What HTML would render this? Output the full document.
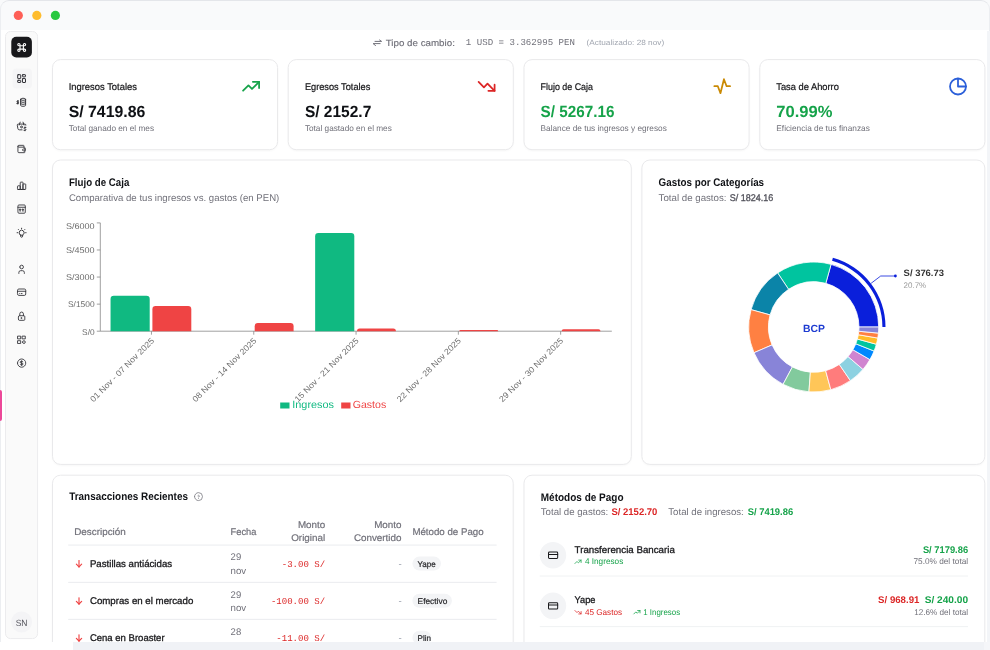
<!DOCTYPE html>
<html lang="es"><head><meta charset="utf-8"><title>Dashboard</title>
<style>
html,body{margin:0;padding:0}
body{width:990px;height:650px;overflow:hidden;background:#fff;position:relative;font-family:"Liberation Sans",sans-serif}
.card{position:absolute;box-sizing:border-box;background:#fff;border:1px solid #edeef1;box-shadow:0 1px 3px rgba(0,0,0,.06)}
svg{position:absolute;left:0;top:0}
.under{z-index:0}
</style></head><body>
<div id="layers" style="position:absolute;left:0;top:0;width:990px;height:650px;overflow:hidden">
<div style="position:absolute;left:0;top:0;width:990px;height:30px;background:#f9fafb"></div>
<div style="position:absolute;left:0;top:0;width:988px;height:700px;border:1px solid #eceef1;border-top-color:#e4e6ea;border-radius:9px 9px 0 0"></div>
<div style="position:absolute;left:0;top:390px;width:2px;height:30.5px;background:#ec4899;border-radius:0 2px 2px 0"></div>
<svg width="990" height="650" viewBox="0 0 990 650" text-rendering="geometricPrecision" style="will-change:transform">
<defs><filter id="bl" x="-5%" y="-5%" width="110%" height="110%"><feGaussianBlur stdDeviation="1.2"/></filter></defs>
<circle cx="18.3" cy="15.4" r="4.6" fill="#fe5f57"/>
<circle cx="36.8" cy="15.4" r="4.6" fill="#febc2e"/>
<circle cx="55.4" cy="15.4" r="4.6" fill="#28c840"/>
<rect x="5.5" y="31.5" width="32.1" height="607.1" rx="5" fill="#fafafa" stroke="#ececee" stroke-width="1"/>
<rect x="11.3" y="36.7" width="20.6" height="20.8" rx="5" fill="#18181b"/>
<rect x="12.5" y="68.4" width="19.5" height="20" rx="4" fill="#f5f5f6"/>
<circle cx="21.6" cy="622" r="10.5" fill="#f4f4f6"/>
<g transform="translate(14.95,40.65) scale(0.5625)" fill="none" stroke="#fff" stroke-width="2" stroke-linecap="round" stroke-linejoin="round"><path d="M7 9a2 2 0 1 1 2 -2v10a2 2 0 1 1 -2 -2h10a2 2 0 1 1 -2 2v-10a2 2 0 1 1 2 2h-10"/></g>
<g transform="translate(16.40,73.40) scale(0.4333)" fill="none" stroke="#2f2f35" stroke-width="2.3" stroke-linecap="round" stroke-linejoin="round"><rect x="3" y="3" width="7" height="9" rx="1"/><rect x="14" y="3" width="7" height="5" rx="1"/><rect x="14" y="12" width="7" height="9" rx="1"/><rect x="3" y="16" width="7" height="5" rx="1"/></g>
<g transform="translate(15.60,96.30) scale(0.5000)" fill="none" stroke="#2f2f35" stroke-width="1.9" stroke-linecap="round" stroke-linejoin="round"><path d="M10 6c0 1.1 2.2 2 5 2s5-.9 5-2s-2.2-2-5-2s-5 .9-5 2z"/><path d="M10 6v12c0 1.1 2.2 2 5 2s5-.9 5-2v-12"/><path d="M10 10c0 1.1 2.2 2 5 2s5-.9 5-2"/><path d="M10 14c0 1.1 2.2 2 5 2s5-.9 5-2"/><path d="M6 9.5h-2.2a1.2 1.2 0 0 0 0 2.5h1a1.2 1.2 0 0 1 0 2.5h-2.3"/><path d="M4.5 8.5v7"/></g>
<g transform="translate(15.85,120.25) scale(0.4792)" fill="none" stroke="#2f2f35" stroke-width="1.9" stroke-linecap="round" stroke-linejoin="round"><path d="M17 10l-2 -6"/><path d="M7 10l2 -6"/><path d="M13 20h-5.756a3 3 0 0 1 -2.965 -2.544l-1.255 -7.152a2 2 0 0 1 1.977 -2.304h13.999a2 2 0 0 1 1.977 2.304"/><path d="M10 14a2 2 0 1 0 4 0a2 2 0 0 0 -4 0"/><path d="M21 15h-2.500a1.500 1.500 0 0 0 0 3h1a1.500 1.500 0 0 1 0 3h-2.500"/><path d="M19 21v1m0 -8v1"/></g>
<g transform="translate(16.10,143.50) scale(0.4583)" fill="none" stroke="#2f2f35" stroke-width="1.9" stroke-linecap="round" stroke-linejoin="round"><path d="M17 8v-3a1 1 0 0 0 -1 -1h-10a2 2 0 0 0 0 4h12a1 1 0 0 1 1 1v3m0 4v3a1 1 0 0 1 -1 1h-12a2 2 0 0 1 -2 -2v-12"/><path d="M20 12v4h-4a2 2 0 0 1 0 -4h4"/></g>
<g transform="translate(16.10,180.30) scale(0.4583)" fill="none" stroke="#2f2f35" stroke-width="1.9" stroke-linecap="round" stroke-linejoin="round"><path d="M3 13a1 1 0 0 1 1 -1h4a1 1 0 0 1 1 1v6a1 1 0 0 1 -1 1h-4a1 1 0 0 1 -1 -1z"/><path d="M15 9a1 1 0 0 1 1 -1h4a1 1 0 0 1 1 1v10a1 1 0 0 1 -1 1h-4a1 1 0 0 1 -1 -1z"/><path d="M9 5a1 1 0 0 1 1 -1h4a1 1 0 0 1 1 1v14a1 1 0 0 1 -1 1h-4a1 1 0 0 1 -1 -1z"/><path d="M4 20h14"/></g>
<g transform="translate(16.10,203.60) scale(0.4583)" fill="none" stroke="#2f2f35" stroke-width="1.9" stroke-linecap="round" stroke-linejoin="round"><path d="M4 5a2 2 0 0 1 2 -2h12a2 2 0 0 1 2 2v14a2 2 0 0 1 -2 2h-12a2 2 0 0 1 -2 -2z"/><path d="M4 8h16"/><path d="M8 12h2v2h-2z"/><path d="M14 12h2v2h-2z"/><path d="M8 16h2"/><path d="M14 16h2"/></g>
<g transform="translate(15.60,226.70) scale(0.5000)" fill="none" stroke="#2f2f35" stroke-width="1.9" stroke-linecap="round" stroke-linejoin="round"><path d="M3 12h1m8 -9v1m8 8h1m-15.400 -6.400l.7 .7m12.100 -.7l-.7 .7"/><path d="M9 16a5 5 0 1 1 6 0a3.500 3.500 0 0 0 -1 3a2 2 0 0 1 -4 0a3.500 3.500 0 0 0 -1 -3"/><path d="M9.700 17h4.600"/></g>
<g transform="translate(16.10,263.80) scale(0.4583)" fill="none" stroke="#2f2f35" stroke-width="1.9" stroke-linecap="round" stroke-linejoin="round"><path d="M8 7a4 4 0 1 0 8 0a4 4 0 0 0 -8 0"/><path d="M6 21v-2a4 4 0 0 1 4 -4h4a4 4 0 0 1 4 4v2"/></g>
<g transform="translate(16.10,286.70) scale(0.4583)" fill="none" stroke="#2f2f35" stroke-width="1.9" stroke-linecap="round" stroke-linejoin="round"><path d="M3 8a3 3 0 0 1 3 -3h12a3 3 0 0 1 3 3v8a3 3 0 0 1 -3 3h-12a3 3 0 0 1 -3 -3z"/><path d="M3 10h18"/><path d="M7 15h.01"/><path d="M11 15h2"/></g>
<g transform="translate(16.10,310.70) scale(0.4583)" fill="none" stroke="#2f2f35" stroke-width="1.9" stroke-linecap="round" stroke-linejoin="round"><path d="M5 13a2 2 0 0 1 2 -2h10a2 2 0 0 1 2 2v6a2 2 0 0 1 -2 2h-10a2 2 0 0 1 -2 -2z"/><path d="M11 16a1 1 0 1 0 2 0a1 1 0 0 0 -2 0"/><path d="M8 11v-4a4 4 0 1 1 8 0v4"/></g>
<g transform="translate(16.10,334.30) scale(0.4583)" fill="none" stroke="#2f2f35" stroke-width="1.9" stroke-linecap="round" stroke-linejoin="round"><path d="M4 4h6v6h-6z"/><path d="M14 4h6v6h-6z"/><path d="M4 14h6v6h-6z"/><path d="M14 17a3 3 0 1 0 6 0a3 3 0 1 0 -6 0"/></g>
<g transform="translate(16.10,357.60) scale(0.4583)" fill="none" stroke="#2f2f35" stroke-width="1.9" stroke-linecap="round" stroke-linejoin="round"><path d="M3 12a9 9 0 1 0 18 0a9 9 0 1 0 -18 0"/><path d="M14.800 9a2 2 0 0 0 -1.800 -1h-2a2 2 0 1 0 0 4h2a2 2 0 1 1 0 4h-2a2 2 0 0 1 -1.800 -1"/><path d="M12 7v10"/></g>
<text x="15.70" y="625.50" font-family="'Liberation Sans', sans-serif" font-size="9" font-weight="400" fill="#52525b" textLength="11.80" lengthAdjust="spacingAndGlyphs">SN</text>
<path d="M375 41.4H381.6L379.6 40.0M380.1 43.6H373.1L375.5 45.5" fill="none" stroke="#71717a" stroke-width="1" stroke-linecap="round" stroke-linejoin="round"/>
<text x="385.70" y="45.60" font-family="'Liberation Sans', sans-serif" font-size="9.1" font-weight="400" fill="#71717a" textLength="69.20" lengthAdjust="spacingAndGlyphs" stroke="#71717a" stroke-width="0.15">Tipo de cambio:</text>
<text x="465.80" y="45.40" font-family="'Liberation Mono', monospace" font-size="9.1" font-weight="400" fill="#71717a" textLength="109.20" lengthAdjust="spacingAndGlyphs">1 USD = 3.362995 PEN</text>
<text x="586.60" y="45.20" font-family="'Liberation Sans', sans-serif" font-size="7.6" font-weight="400" fill="#a1a6b0" textLength="77.60" lengthAdjust="spacingAndGlyphs">(Actualizado: 28 nov)</text>
<rect x="52.5" y="60.800000000000004" width="225.1" height="90.1" rx="8" fill="#000" opacity="0.035" filter="url(#bl)"/>
<rect x="52.5" y="59.6" width="225.1" height="90.1" rx="8" fill="#fff" stroke="#e9e9eb" stroke-width="1"/>
<text x="68.70" y="89.60" font-family="'Liberation Sans', sans-serif" font-size="9.7" font-weight="400" fill="#18181b" textLength="68.20" lengthAdjust="spacingAndGlyphs" stroke="#18181b" stroke-width="0.22">Ingresos Totales</text>
<text x="68.70" y="117.30" font-family="'Liberation Sans', sans-serif" font-size="16.2" font-weight="700" fill="#0f1115" textLength="76.60" lengthAdjust="spacingAndGlyphs">S/ 7419.86</text>
<text x="68.70" y="130.60" font-family="'Liberation Sans', sans-serif" font-size="8.3" font-weight="400" fill="#71717a" textLength="85.40" lengthAdjust="spacingAndGlyphs">Total ganado en el mes</text>
<rect x="288.2" y="60.800000000000004" width="225.1" height="90.1" rx="8" fill="#000" opacity="0.035" filter="url(#bl)"/>
<rect x="288.2" y="59.6" width="225.1" height="90.1" rx="8" fill="#fff" stroke="#e9e9eb" stroke-width="1"/>
<text x="304.90" y="89.60" font-family="'Liberation Sans', sans-serif" font-size="9.7" font-weight="400" fill="#18181b" textLength="65.40" lengthAdjust="spacingAndGlyphs" stroke="#18181b" stroke-width="0.22">Egresos Totales</text>
<text x="304.90" y="117.30" font-family="'Liberation Sans', sans-serif" font-size="16.2" font-weight="700" fill="#0f1115" textLength="66.40" lengthAdjust="spacingAndGlyphs">S/ 2152.7</text>
<text x="304.90" y="130.60" font-family="'Liberation Sans', sans-serif" font-size="8.3" font-weight="400" fill="#71717a" textLength="86.90" lengthAdjust="spacingAndGlyphs">Total gastado en el mes</text>
<rect x="524.0" y="60.800000000000004" width="225.1" height="90.1" rx="8" fill="#000" opacity="0.035" filter="url(#bl)"/>
<rect x="524.0" y="59.6" width="225.1" height="90.1" rx="8" fill="#fff" stroke="#e9e9eb" stroke-width="1"/>
<text x="540.60" y="89.60" font-family="'Liberation Sans', sans-serif" font-size="9.7" font-weight="400" fill="#18181b" textLength="52.40" lengthAdjust="spacingAndGlyphs" stroke="#18181b" stroke-width="0.22">Flujo de Caja</text>
<text x="540.60" y="117.30" font-family="'Liberation Sans', sans-serif" font-size="16.2" font-weight="700" fill="#16a34a" textLength="73.80" lengthAdjust="spacingAndGlyphs">S/ 5267.16</text>
<text x="540.60" y="130.60" font-family="'Liberation Sans', sans-serif" font-size="8.3" font-weight="400" fill="#71717a" textLength="126.20" lengthAdjust="spacingAndGlyphs">Balance de tus ingresos y egresos</text>
<rect x="759.8" y="60.800000000000004" width="225.1" height="90.1" rx="8" fill="#000" opacity="0.035" filter="url(#bl)"/>
<rect x="759.8" y="59.6" width="225.1" height="90.1" rx="8" fill="#fff" stroke="#e9e9eb" stroke-width="1"/>
<text x="776.30" y="89.60" font-family="'Liberation Sans', sans-serif" font-size="9.7" font-weight="400" fill="#18181b" textLength="62.60" lengthAdjust="spacingAndGlyphs" stroke="#18181b" stroke-width="0.22">Tasa de Ahorro</text>
<text x="776.30" y="117.30" font-family="'Liberation Sans', sans-serif" font-size="16.2" font-weight="700" fill="#16a34a" textLength="56.10" lengthAdjust="spacingAndGlyphs">70.99%</text>
<text x="776.30" y="130.60" font-family="'Liberation Sans', sans-serif" font-size="8.3" font-weight="400" fill="#71717a" textLength="93.50" lengthAdjust="spacingAndGlyphs">Eficiencia de tus finanzas</text>
<g transform="translate(240.45,75.65) scale(0.8875)" fill="none" stroke="#16a34a" stroke-width="2" stroke-linecap="round" stroke-linejoin="round"><path d="M3 17l6 -6l4 4l8 -8"/><path d="M14 7h7v7"/></g>
<g transform="translate(475.95,75.75) scale(0.8875)" fill="none" stroke="#dc2626" stroke-width="2" stroke-linecap="round" stroke-linejoin="round"><path d="M3 7l6 6l4 -4l8 8"/><path d="M21 10v7h-7"/></g>
<g transform="translate(711.70,75.70) scale(0.8750)" fill="none" stroke="#ca8a04" stroke-width="2" stroke-linecap="round" stroke-linejoin="round"><path d="M3 12h4l3 8l4 -16l3 8h4"/></g>
<g transform="translate(947.35,75.85) scale(0.8875)" fill="none" stroke="#2b5fd9" stroke-width="2" stroke-linecap="round" stroke-linejoin="round"><path d="M12 3v9h9"/><path d="M3 12a9 9 0 1 0 18 0a9 9 0 1 0 -18 0"/></g>
<rect x="52.5" y="161.2" width="578.8" height="304.4" rx="8" fill="#000" opacity="0.035" filter="url(#bl)"/>
<rect x="52.5" y="160.0" width="578.8" height="304.4" rx="8" fill="#fff" stroke="#e9e9eb" stroke-width="1"/>
<text x="68.90" y="186.00" font-family="'Liberation Sans', sans-serif" font-size="11" font-weight="700" fill="#0f1115" textLength="60.40" lengthAdjust="spacingAndGlyphs">Flujo de Caja</text>
<text x="68.90" y="201.20" font-family="'Liberation Sans', sans-serif" font-size="9.7" font-weight="400" fill="#71717a" textLength="210.40" lengthAdjust="spacingAndGlyphs">Comparativa de tus ingresos vs. gastos (en PEN)</text>
<path d="M100.3 222.9V331.2H611.8" fill="none" stroke="#808080" stroke-width="0.75"/>
<path d="M96.8 222.9H100.3" stroke="#808080" stroke-width="0.75"/>
<text x="94.60" y="228.50" font-family="'Liberation Sans', sans-serif" font-size="8.3" font-weight="400" fill="#6b6b6b" text-anchor="end" textLength="28.70" lengthAdjust="spacingAndGlyphs">S/6000</text>
<path d="M96.8 249.975H100.3" stroke="#808080" stroke-width="0.75"/>
<text x="94.60" y="252.82" font-family="'Liberation Sans', sans-serif" font-size="8.3" font-weight="400" fill="#6b6b6b" text-anchor="end" textLength="28.70" lengthAdjust="spacingAndGlyphs">S/4500</text>
<path d="M96.8 277.05H100.3" stroke="#808080" stroke-width="0.75"/>
<text x="94.60" y="279.90" font-family="'Liberation Sans', sans-serif" font-size="8.3" font-weight="400" fill="#6b6b6b" text-anchor="end" textLength="28.70" lengthAdjust="spacingAndGlyphs">S/3000</text>
<path d="M96.8 304.125H100.3" stroke="#808080" stroke-width="0.75"/>
<text x="94.60" y="306.98" font-family="'Liberation Sans', sans-serif" font-size="8.3" font-weight="400" fill="#6b6b6b" text-anchor="end" textLength="26.60" lengthAdjust="spacingAndGlyphs">S/1500</text>
<path d="M96.8 331.2H100.3" stroke="#808080" stroke-width="0.75"/>
<text x="94.60" y="334.90" font-family="'Liberation Sans', sans-serif" font-size="8.3" font-weight="400" fill="#6b6b6b" text-anchor="end" textLength="12.50" lengthAdjust="spacingAndGlyphs">S/0</text>
<path d="M110.55 331.20V299.00Q110.55 295.80 113.75 295.80H146.50Q149.70 295.80 149.70 299.00V331.20Z" fill="#10b981"/>
<path d="M152.40 331.20V309.20Q152.40 306.00 155.60 306.00H188.10Q191.30 306.00 191.30 309.20V331.20Z" fill="#ef4444"/>
<path d="M151.45 331.2v3.5" stroke="#808080" stroke-width="0.75"/>
<text transform="translate(154.65,341.20) rotate(-45)" text-anchor="end" font-family="'Liberation Sans', sans-serif" font-size="8.3" fill="#6b6b6b" textLength="86.6" lengthAdjust="spacingAndGlyphs">01 Nov - 07 Nov 2025</text>
<path d="M254.70 331.20V326.20Q254.70 323.00 257.90 323.00H290.40Q293.60 323.00 293.60 326.20V331.20Z" fill="#ef4444"/>
<path d="M253.75 331.2v3.5" stroke="#808080" stroke-width="0.75"/>
<text transform="translate(256.95,341.20) rotate(-45)" text-anchor="end" font-family="'Liberation Sans', sans-serif" font-size="8.3" fill="#6b6b6b" textLength="86.6" lengthAdjust="spacingAndGlyphs">08 Nov - 14 Nov 2025</text>
<path d="M315.15 331.20V236.30Q315.15 233.10 318.35 233.10H351.10Q354.30 233.10 354.30 236.30V331.20Z" fill="#10b981"/>
<path d="M357.00 331.20V331.20Q357.00 328.60 359.60 328.60H393.30Q395.90 328.60 395.90 331.20V331.20Z" fill="#ef4444"/>
<path d="M356.05 331.2v3.5" stroke="#808080" stroke-width="0.75"/>
<text transform="translate(359.25,341.20) rotate(-45)" text-anchor="end" font-family="'Liberation Sans', sans-serif" font-size="8.3" fill="#6b6b6b" textLength="86.6" lengthAdjust="spacingAndGlyphs">15 Nov - 21 Nov 2025</text>
<path d="M459.30 331.20V331.20Q459.30 330.00 460.50 330.00H497.00Q498.20 330.00 498.20 331.20V331.20Z" fill="#ef4444"/>
<path d="M458.35 331.2v3.5" stroke="#808080" stroke-width="0.75"/>
<text transform="translate(461.55,341.20) rotate(-45)" text-anchor="end" font-family="'Liberation Sans', sans-serif" font-size="8.3" fill="#6b6b6b" textLength="86.6" lengthAdjust="spacingAndGlyphs">22 Nov - 28 Nov 2025</text>
<path d="M561.60 331.20V331.20Q561.60 329.20 563.60 329.20H598.50Q600.50 329.20 600.50 331.20V331.20Z" fill="#ef4444"/>
<path d="M560.65 331.2v3.5" stroke="#808080" stroke-width="0.75"/>
<text transform="translate(563.85,341.20) rotate(-45)" text-anchor="end" font-family="'Liberation Sans', sans-serif" font-size="8.3" fill="#6b6b6b" textLength="86.6" lengthAdjust="spacingAndGlyphs">29 Nov - 30 Nov 2025</text>
<rect x="280.2" y="402.5" width="9.3" height="6.0" fill="#10b981"/>
<text x="292.30" y="408.00" font-family="'Liberation Sans', sans-serif" font-size="10.4" font-weight="400" fill="#10b981" textLength="41.70" lengthAdjust="spacingAndGlyphs">Ingresos</text>
<rect x="341.2" y="402.5" width="9.3" height="6.0" fill="#ef4444"/>
<text x="352.70" y="408.00" font-family="'Liberation Sans', sans-serif" font-size="10.4" font-weight="400" fill="#ef4444" textLength="33.50" lengthAdjust="spacingAndGlyphs">Gastos</text>
<rect x="641.9" y="161.2" width="342.9" height="304.4" rx="8" fill="#000" opacity="0.035" filter="url(#bl)"/>
<rect x="641.9" y="160.0" width="342.9" height="304.4" rx="8" fill="#fff" stroke="#e9e9eb" stroke-width="1"/>
<text x="658.60" y="185.80" font-family="'Liberation Sans', sans-serif" font-size="11" font-weight="700" fill="#0f1115" textLength="105.50" lengthAdjust="spacingAndGlyphs">Gastos por Categorías</text>
<text x="658.60" y="200.60" font-family="'Liberation Sans', sans-serif" font-size="9.7" font-weight="400" fill="#71717a" textLength="67.90" lengthAdjust="spacingAndGlyphs">Total de gastos:</text>
<text x="729.70" y="200.60" font-family="'Liberation Sans', sans-serif" font-size="9.7" font-weight="400" fill="#52525b" textLength="43.60" lengthAdjust="spacingAndGlyphs" stroke="#52525b" stroke-width="0.3">S/ 1824.16</text>
<path d="M878.70 327.00A65.0 65.0 0 0 0 831.07 264.36L825.81 283.35A45.3 45.3 0 0 1 859.00 327.00Z" fill="#0a1fdb" stroke="#fff" stroke-width="0.8"/>
<path d="M831.07 264.36A65.0 65.0 0 0 0 777.64 272.92L788.57 289.31A45.3 45.3 0 0 1 825.81 283.35Z" fill="#00c49f" stroke="#fff" stroke-width="0.8"/>
<path d="M777.64 272.92A65.0 65.0 0 0 0 751.06 309.63L770.05 314.89A45.3 45.3 0 0 1 788.57 289.31Z" fill="#0b84a8" stroke="#fff" stroke-width="0.8"/>
<path d="M751.06 309.63A65.0 65.0 0 0 0 754.00 352.71L772.09 344.92A45.3 45.3 0 0 1 770.05 314.89Z" fill="#ff8042" stroke="#fff" stroke-width="0.8"/>
<path d="M754.00 352.71A65.0 65.0 0 0 0 783.08 384.34L792.36 366.96A45.3 45.3 0 0 1 772.09 344.92Z" fill="#8884d8" stroke="#fff" stroke-width="0.8"/>
<path d="M783.08 384.34A65.0 65.0 0 0 0 808.94 391.83L810.38 372.18A45.3 45.3 0 0 1 792.36 366.96Z" fill="#82ca9d" stroke="#fff" stroke-width="0.8"/>
<path d="M808.94 391.83A65.0 65.0 0 0 0 830.85 389.70L825.65 370.69A45.3 45.3 0 0 1 810.38 372.18Z" fill="#ffc658" stroke="#fff" stroke-width="0.8"/>
<path d="M830.85 389.70A65.0 65.0 0 0 0 850.42 380.63L839.29 364.38A45.3 45.3 0 0 1 825.65 370.69Z" fill="#ff7c7c" stroke="#fff" stroke-width="0.8"/>
<path d="M850.42 380.63A65.0 65.0 0 0 0 862.98 369.39L848.04 356.54A45.3 45.3 0 0 1 839.29 364.38Z" fill="#8dd1e1" stroke="#fff" stroke-width="0.8"/>
<path d="M862.98 369.39A65.0 65.0 0 0 0 869.93 359.60L852.89 349.72A45.3 45.3 0 0 1 848.04 356.54Z" fill="#d084d0" stroke="#fff" stroke-width="0.8"/>
<path d="M869.93 359.60A65.0 65.0 0 0 0 874.09 351.03L855.79 343.75A45.3 45.3 0 0 1 852.89 349.72Z" fill="#0088fe" stroke="#fff" stroke-width="0.8"/>
<path d="M874.09 351.03A65.0 65.0 0 0 0 876.37 344.26L857.37 339.03A45.3 45.3 0 0 1 855.79 343.75Z" fill="#00c49f" stroke="#fff" stroke-width="0.8"/>
<path d="M876.37 344.26A65.0 65.0 0 0 0 877.75 338.06L858.34 334.71A45.3 45.3 0 0 1 857.37 339.03Z" fill="#ffbb28" stroke="#fff" stroke-width="0.8"/>
<path d="M877.75 338.06A65.0 65.0 0 0 0 878.41 333.12L858.80 331.26A45.3 45.3 0 0 1 858.34 334.71Z" fill="#ff8042" stroke="#fff" stroke-width="0.8"/>
<path d="M878.41 333.12A65.0 65.0 0 0 0 878.70 327.00L859.00 327.00A45.3 45.3 0 0 1 858.80 331.26Z" fill="#8884d8" stroke="#fff" stroke-width="0.8"/>
<path d="M885.50 327.00A71.8 71.8 0 0 0 832.89 257.81L832.06 260.80A68.7 68.7 0 0 1 882.40 327.00Z" fill="#0a1fdb"/>
<path d="M871.1 283.3L880.7 276H895.4" fill="none" stroke="#0a1fdb" stroke-width="0.8"/>
<circle cx="895.4" cy="276" r="1.4" fill="#0a1fdb"/>
<text x="813.90" y="331.50" font-family="'Liberation Sans', sans-serif" font-size="10.4" font-weight="700" fill="#1d3bd1" text-anchor="middle">BCP</text>
<text x="903.60" y="275.70" font-family="'Liberation Sans', sans-serif" font-size="9.2" font-weight="700" fill="#333" textLength="40.40" lengthAdjust="spacingAndGlyphs">S/ 376.73</text>
<text x="903.60" y="287.80" font-family="'Liberation Sans', sans-serif" font-size="8.1" font-weight="400" fill="#9a9a9a" textLength="22.60" lengthAdjust="spacingAndGlyphs">20.7%</text>
<rect x="52.5" y="476.4" width="460.7" height="200" rx="8" fill="#000" opacity="0.035" filter="url(#bl)"/>
<rect x="52.5" y="475.2" width="460.7" height="200" rx="8" fill="#fff" stroke="#e9e9eb" stroke-width="1"/>
<text x="69.20" y="500.30" font-family="'Liberation Sans', sans-serif" font-size="11" font-weight="700" fill="#0f1115" textLength="118.80" lengthAdjust="spacingAndGlyphs">Transacciones Recientes</text>
<g transform="translate(193.20,491.30) scale(0.4417)" fill="none" stroke="#71717a" stroke-width="1.7" stroke-linecap="round" stroke-linejoin="round"><path d="M3 12a9 9 0 1 0 18 0a9 9 0 1 0 -18 0"/><path d="M12 16v.01"/><path d="M12 13a2 2 0 0 0 .914 -3.782a1.980 1.980 0 0 0 -2.414 .483"/></g>
<text x="74.20" y="534.60" font-family="'Liberation Sans', sans-serif" font-size="9.7" font-weight="400" fill="#71717a" textLength="51.60" lengthAdjust="spacingAndGlyphs" stroke="#71717a" stroke-width="0.2">Descripción</text>
<text x="230.60" y="534.90" font-family="'Liberation Sans', sans-serif" font-size="9.7" font-weight="400" fill="#71717a" textLength="25.80" lengthAdjust="spacingAndGlyphs" stroke="#71717a" stroke-width="0.2">Fecha</text>
<text x="325.20" y="528.00" font-family="'Liberation Sans', sans-serif" font-size="9.7" font-weight="400" fill="#71717a" text-anchor="end" textLength="27.30" lengthAdjust="spacingAndGlyphs" stroke="#71717a" stroke-width="0.2">Monto</text>
<text x="325.20" y="541.40" font-family="'Liberation Sans', sans-serif" font-size="9.7" font-weight="400" fill="#71717a" text-anchor="end" textLength="34.00" lengthAdjust="spacingAndGlyphs" stroke="#71717a" stroke-width="0.2">Original</text>
<text x="401.50" y="528.00" font-family="'Liberation Sans', sans-serif" font-size="9.7" font-weight="400" fill="#71717a" text-anchor="end" textLength="27.30" lengthAdjust="spacingAndGlyphs" stroke="#71717a" stroke-width="0.2">Monto</text>
<text x="401.50" y="541.40" font-family="'Liberation Sans', sans-serif" font-size="9.7" font-weight="400" fill="#71717a" text-anchor="end" textLength="47.60" lengthAdjust="spacingAndGlyphs" stroke="#71717a" stroke-width="0.2">Convertido</text>
<text x="412.40" y="534.90" font-family="'Liberation Sans', sans-serif" font-size="9.7" font-weight="400" fill="#71717a" textLength="71.20" lengthAdjust="spacingAndGlyphs" stroke="#71717a" stroke-width="0.2">Método de Pago</text>
<path d="M68.2 545.1H496.6" stroke="#e9eaed" stroke-width="0.9"/>
<path d="M68.2 582.4H496.6" stroke="#e9eaed" stroke-width="0.9"/>
<path d="M68.2 619.4H496.6" stroke="#e9eaed" stroke-width="0.9"/>
<g transform="translate(73.70,558.40) scale(0.4417)" fill="none" stroke="#ef4444" stroke-width="2.6" stroke-linecap="round" stroke-linejoin="round"><path d="M12 5v14"/><path d="M18 13l-6 6"/><path d="M6 13l6 6"/></g>
<text x="89.90" y="566.90" font-family="'Liberation Sans', sans-serif" font-size="9.7" font-weight="400" fill="#18181b" textLength="82.20" lengthAdjust="spacingAndGlyphs" stroke="#18181b" stroke-width="0.3">Pastillas antiácidas</text>
<text x="230.60" y="560.30" font-family="'Liberation Sans', sans-serif" font-size="9.7" font-weight="400" fill="#71717a" textLength="10.60" lengthAdjust="spacingAndGlyphs">29</text>
<text x="230.60" y="573.80" font-family="'Liberation Sans', sans-serif" font-size="9.7" font-weight="400" fill="#71717a" textLength="15.60" lengthAdjust="spacingAndGlyphs">nov</text>
<text x="325.20" y="566.80" font-family="'Liberation Mono', monospace" font-size="9.05" font-weight="400" fill="#dc2626" text-anchor="end">-3.00 S/</text>
<text x="398.40" y="566.80" font-family="'Liberation Sans', sans-serif" font-size="9.7" font-weight="400" fill="#9ca3af">-</text>
<rect x="412.4" y="556.6" width="28.6" height="14" rx="7" fill="#f3f4f6"/>
<text x="417.60" y="566.50" font-family="'Liberation Sans', sans-serif" font-size="8.3" font-weight="400" fill="#27272a" textLength="18.20" lengthAdjust="spacingAndGlyphs" stroke="#27272a" stroke-width="0.2">Yape</text>
<g transform="translate(73.70,595.60) scale(0.4417)" fill="none" stroke="#ef4444" stroke-width="2.6" stroke-linecap="round" stroke-linejoin="round"><path d="M12 5v14"/><path d="M18 13l-6 6"/><path d="M6 13l6 6"/></g>
<text x="89.90" y="604.10" font-family="'Liberation Sans', sans-serif" font-size="9.7" font-weight="400" fill="#18181b" textLength="103.40" lengthAdjust="spacingAndGlyphs" stroke="#18181b" stroke-width="0.3">Compras en el mercado</text>
<text x="230.60" y="597.50" font-family="'Liberation Sans', sans-serif" font-size="9.7" font-weight="400" fill="#71717a" textLength="10.60" lengthAdjust="spacingAndGlyphs">29</text>
<text x="230.60" y="611.00" font-family="'Liberation Sans', sans-serif" font-size="9.7" font-weight="400" fill="#71717a" textLength="15.60" lengthAdjust="spacingAndGlyphs">nov</text>
<text x="325.20" y="604.00" font-family="'Liberation Mono', monospace" font-size="9.05" font-weight="400" fill="#dc2626" text-anchor="end">-100.00 S/</text>
<text x="398.40" y="604.00" font-family="'Liberation Sans', sans-serif" font-size="9.7" font-weight="400" fill="#9ca3af">-</text>
<rect x="412.4" y="593.8" width="39.5" height="14" rx="7" fill="#f3f4f6"/>
<text x="417.60" y="603.70" font-family="'Liberation Sans', sans-serif" font-size="8.3" font-weight="400" fill="#27272a" textLength="29.70" lengthAdjust="spacingAndGlyphs" stroke="#27272a" stroke-width="0.2">Efectivo</text>
<g transform="translate(73.70,632.60) scale(0.4417)" fill="none" stroke="#ef4444" stroke-width="2.6" stroke-linecap="round" stroke-linejoin="round"><path d="M12 5v14"/><path d="M18 13l-6 6"/><path d="M6 13l6 6"/></g>
<text x="89.90" y="641.10" font-family="'Liberation Sans', sans-serif" font-size="9.7" font-weight="400" fill="#18181b" textLength="74.70" lengthAdjust="spacingAndGlyphs" stroke="#18181b" stroke-width="0.3">Cena en Broaster</text>
<text x="230.60" y="634.50" font-family="'Liberation Sans', sans-serif" font-size="9.7" font-weight="400" fill="#71717a" textLength="10.60" lengthAdjust="spacingAndGlyphs">28</text>
<text x="230.60" y="648.00" font-family="'Liberation Sans', sans-serif" font-size="9.7" font-weight="400" fill="#71717a" textLength="15.60" lengthAdjust="spacingAndGlyphs">nov</text>
<text x="325.20" y="641.00" font-family="'Liberation Mono', monospace" font-size="9.05" font-weight="400" fill="#dc2626" text-anchor="end">-11.00 S/</text>
<text x="398.40" y="641.00" font-family="'Liberation Sans', sans-serif" font-size="9.7" font-weight="400" fill="#9ca3af">-</text>
<rect x="412.4" y="630.8" width="18.9" height="14" rx="7" fill="#f3f4f6"/>
<text x="417.60" y="640.70" font-family="'Liberation Sans', sans-serif" font-size="8.3" font-weight="400" fill="#27272a" textLength="13.50" lengthAdjust="spacingAndGlyphs" stroke="#27272a" stroke-width="0.2">Plin</text>
<rect x="524.0" y="476.4" width="460.8" height="200" rx="8" fill="#000" opacity="0.035" filter="url(#bl)"/>
<rect x="524.0" y="475.2" width="460.8" height="200" rx="8" fill="#fff" stroke="#e9e9eb" stroke-width="1"/>
<text x="540.80" y="500.70" font-family="'Liberation Sans', sans-serif" font-size="11" font-weight="700" fill="#0f1115" textLength="82.70" lengthAdjust="spacingAndGlyphs">Métodos de Pago</text>
<text x="540.80" y="515.00" font-family="'Liberation Sans', sans-serif" font-size="9.7" font-weight="400" fill="#71717a" textLength="67.50" lengthAdjust="spacingAndGlyphs">Total de gastos:</text>
<text x="611.40" y="515.00" font-family="'Liberation Sans', sans-serif" font-size="9.7" font-weight="700" fill="#dc2626" textLength="46.00" lengthAdjust="spacingAndGlyphs">S/ 2152.70</text>
<text x="668.30" y="515.00" font-family="'Liberation Sans', sans-serif" font-size="9.7" font-weight="400" fill="#71717a" textLength="75.50" lengthAdjust="spacingAndGlyphs">Total de ingresos:</text>
<text x="747.70" y="515.00" font-family="'Liberation Sans', sans-serif" font-size="9.7" font-weight="700" fill="#16a34a" textLength="45.50" lengthAdjust="spacingAndGlyphs">S/ 7419.86</text>
<circle cx="553" cy="555.2" r="13.2" fill="#f3f4f6"/>
<g transform="translate(547.60,549.80) scale(0.4583)" fill="none" stroke="#18181b" stroke-width="2.2" stroke-linecap="round" stroke-linejoin="round"><rect x="2" y="5" width="20" height="14" rx="2"/><path d="M2 10h20"/></g>
<path d="M539.8 576.0H968" stroke="#eef0f2" stroke-width="0.9"/>
<circle cx="553" cy="605.8" r="13.2" fill="#f3f4f6"/>
<g transform="translate(547.60,600.40) scale(0.4583)" fill="none" stroke="#18181b" stroke-width="2.2" stroke-linecap="round" stroke-linejoin="round"><rect x="2" y="5" width="20" height="14" rx="2"/><path d="M2 10h20"/></g>
<path d="M539.8 626.6H968" stroke="#eef0f2" stroke-width="0.9"/>
<text x="574.60" y="553.20" font-family="'Liberation Sans', sans-serif" font-size="9.7" font-weight="400" fill="#18181b" textLength="100.20" lengthAdjust="spacingAndGlyphs" stroke="#18181b" stroke-width="0.3">Transferencia Bancaria</text>
<g transform="translate(573.90,557.70) scale(0.3438)" fill="none" stroke="#16a34a" stroke-width="2.2" stroke-linecap="round" stroke-linejoin="round"><path d="M3 17l6 -6l4 4l8 -8"/><path d="M14 7h7v7"/></g>
<text x="584.90" y="564.20" font-family="'Liberation Sans', sans-serif" font-size="8.3" font-weight="400" fill="#16a34a" textLength="38.40" lengthAdjust="spacingAndGlyphs">4 Ingresos</text>
<text x="968.10" y="553.20" font-family="'Liberation Sans', sans-serif" font-size="9.7" font-weight="700" fill="#16a34a" text-anchor="end" textLength="45.20" lengthAdjust="spacingAndGlyphs">S/ 7179.86</text>
<text x="968.10" y="564.20" font-family="'Liberation Sans', sans-serif" font-size="8.3" font-weight="400" fill="#71717a" text-anchor="end" textLength="54.60" lengthAdjust="spacingAndGlyphs">75.0% del total</text>
<text x="574.60" y="603.10" font-family="'Liberation Sans', sans-serif" font-size="9.7" font-weight="400" fill="#18181b" textLength="20.90" lengthAdjust="spacingAndGlyphs" stroke="#18181b" stroke-width="0.3">Yape</text>
<g transform="translate(573.90,608.10) scale(0.3438)" fill="none" stroke="#dc2626" stroke-width="2.2" stroke-linecap="round" stroke-linejoin="round"><path d="M3 7l6 6l4 -4l8 8"/><path d="M21 10v7h-7"/></g>
<text x="584.90" y="614.60" font-family="'Liberation Sans', sans-serif" font-size="8.3" font-weight="400" fill="#dc2626" textLength="37.10" lengthAdjust="spacingAndGlyphs">45 Gastos</text>
<g transform="translate(632.80,608.10) scale(0.3438)" fill="none" stroke="#16a34a" stroke-width="2.2" stroke-linecap="round" stroke-linejoin="round"><path d="M3 17l6 -6l4 4l8 -8"/><path d="M14 7h7v7"/></g>
<text x="643.30" y="614.60" font-family="'Liberation Sans', sans-serif" font-size="8.3" font-weight="400" fill="#16a34a" textLength="36.80" lengthAdjust="spacingAndGlyphs">1 Ingresos</text>
<text x="919.40" y="603.10" font-family="'Liberation Sans', sans-serif" font-size="9.7" font-weight="700" fill="#dc2626" text-anchor="end" textLength="41.30" lengthAdjust="spacingAndGlyphs">S/ 968.91</text>
<text x="968.10" y="603.10" font-family="'Liberation Sans', sans-serif" font-size="9.7" font-weight="700" fill="#16a34a" text-anchor="end" textLength="43.40" lengthAdjust="spacingAndGlyphs">S/ 240.00</text>
<text x="968.10" y="614.60" font-family="'Liberation Sans', sans-serif" font-size="8.3" font-weight="400" fill="#71717a" text-anchor="end" textLength="53.90" lengthAdjust="spacingAndGlyphs">12.6% del total</text>
</svg>
<div style="position:absolute;left:987px;top:31px;width:3px;height:619px;background:#f3f5f8"></div>
<div style="position:absolute;left:0px;top:641.5px;width:990px;height:9px;background:#fff"></div>
<div style="position:absolute;left:73px;top:642px;width:917px;height:8px;background:#f5f6f9"></div>
<div style="position:absolute;left:73px;top:642px;width:910.5px;height:8px;background:#f0f2f6"></div>
</div>
</body></html>
